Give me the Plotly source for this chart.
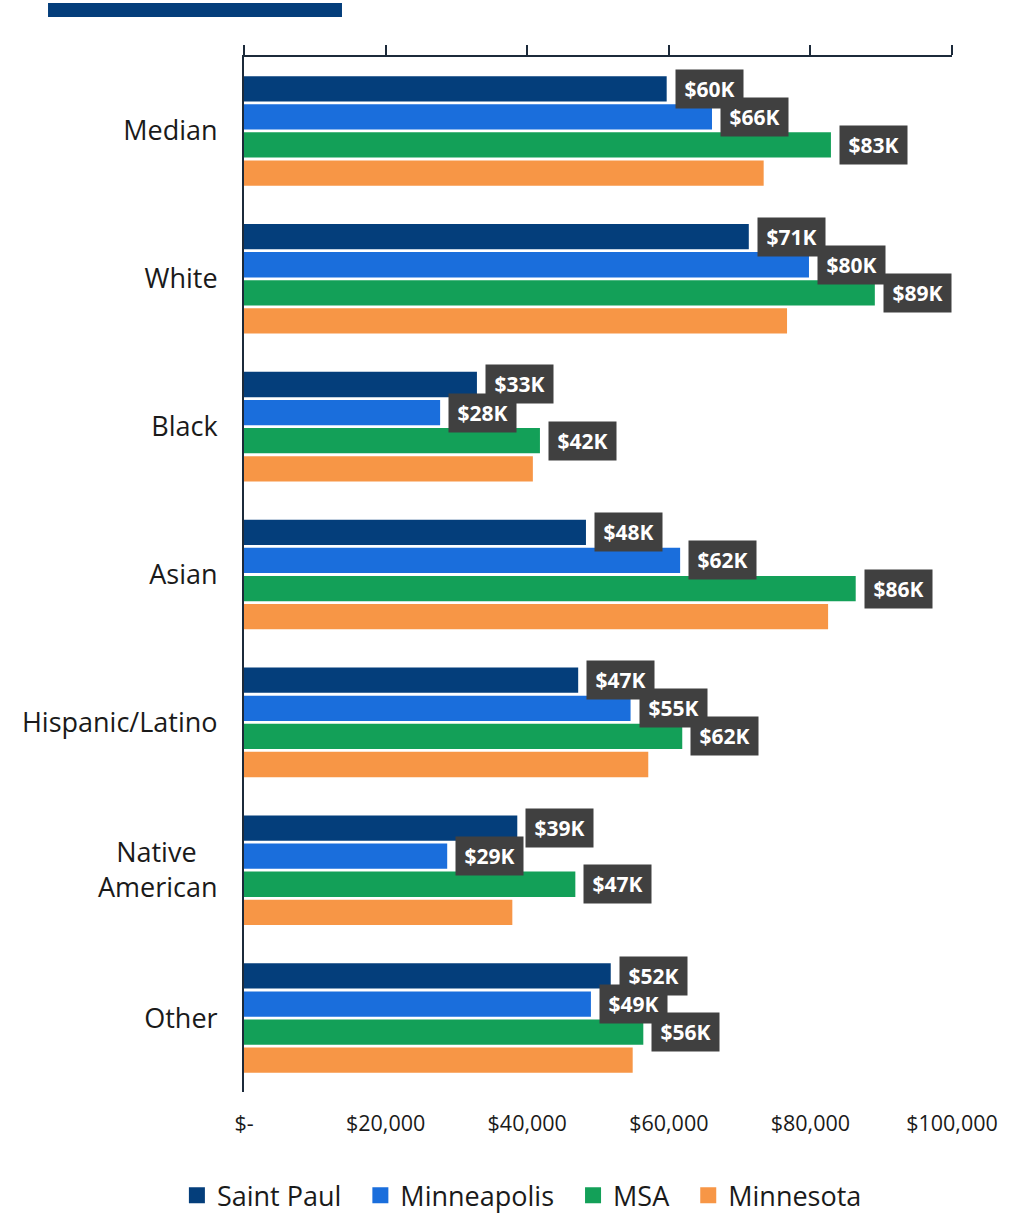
import plotly.graph_objects as go

categories = ["Median", "White", "Black", "Asian", "Hispanic/Latino",
              "Native\u00a0\u00a0\u00a0<br>American", "Other"]
series_names = ["Saint Paul", "Minneapolis", "MSA", "Minnesota"]
saint_paul = [59700, 71300, 32900, 48300, 47200, 38600, 51800]
minneapolis = [66100, 79800, 27700, 61600, 54600, 28700, 49000]
msa = [82900, 89100, 41800, 86400, 61900, 46800, 56400]
minnesota = [73400, 76700, 40800, 82500, 57100, 37900, 54900]
labeled = [True, True, True, False]

tick_vals = [0, 20000, 40000, 60000, 80000, 100000]
tick_text = ["$-", "$20,000", "$40,000", "$60,000", "$80,000", "$100,000"]

colors = ["#043E7B", "#1A6EDC", "#13A058", "#F79646"]
all_series = [saint_paul, minneapolis, msa, minnesota]

FONT = "Open Sans"
AXIS_COLOR = "#1C2A3A"
TEXT_COLOR = "#1A1A1A"

fig = go.Figure()
for name, vals, col in zip(series_names, all_series, colors):
    fig.add_trace(go.Bar(
        y=categories, x=vals, name=name, orientation="h",
        marker=dict(color=col, line=dict(width=0)),
        showlegend=False, hoverinfo="skip",
    ))
# legend entries with larger square swatches
for name, col in zip(series_names, colors):
    fig.add_trace(go.Scatter(
        x=[None], y=[None], mode="markers",
        name=name + "\u00a0\u00a0",
        marker=dict(symbol="square", size=16, color=col),
        showlegend=True,
    ))
# invisible trace on top axis
fig.add_trace(go.Scatter(x=[None], y=[None], xaxis="x2", showlegend=False))

slot = 28.1
annotations = []
for i, (vals, lab) in enumerate(zip(all_series, labeled)):
    if not lab:
        continue
    for cat, v in zip(categories, vals):
        annotations.append(dict(
            x=v, y=cat, xref="x", yref="y",
            text=f"<b>${round(v / 1000)}K</b>",
            showarrow=False, xanchor="left", yanchor="middle",
            xshift=8, yshift=(1.5 - i) * slot,
            bgcolor="#404040", borderpad=5, width=57, height=28,
            font=dict(family=FONT, size=21, color="white"),
        ))

fig.update_layout(
    width=1025, height=1214, autosize=False,
    margin=dict(l=244, r=73, t=57, b=122),
    paper_bgcolor="white", plot_bgcolor="white",
    barmode="group", bargap=0.24, bargroupgap=0.1,
    font=dict(family=FONT, color=TEXT_COLOR),
    xaxis=dict(range=[0, 100000], tickvals=tick_vals, ticktext=tick_text,
               showline=False, showgrid=False, zeroline=False, ticks="",
               tickfont=dict(size=21.5, family=FONT, color=TEXT_COLOR),
               ticklabelstandoff=16, fixedrange=True),
    xaxis2=dict(range=[0, 100000], overlaying="x", side="top", anchor="y",
                tickvals=tick_vals, showticklabels=False, showline=True,
                linecolor=AXIS_COLOR, linewidth=2, ticks="outside",
                ticklen=10, tickwidth=2, tickcolor=AXIS_COLOR,
                showgrid=False, zeroline=False),
    yaxis=dict(autorange="reversed", showline=True, linecolor=AXIS_COLOR,
               linewidth=2, ticks="", showgrid=False, zeroline=False,
               tickfont=dict(size=27, family=FONT, color=TEXT_COLOR),
               ticklabelstandoff=19),
    legend=dict(orientation="h", xref="container", yref="container",
                x=0.516, xanchor="center", y=0.015, yanchor="middle",
                font=dict(size=27, family=FONT, color=TEXT_COLOR),
                itemclick=False, itemdoubleclick=False),
    annotations=annotations,
    shapes=[dict(type="rect", xref="paper", yref="paper",
                 x0=-0.2768, x1=0.1384, y0=1.0386, y1=1.0522,
                 fillcolor="#043E7B", line=dict(width=0))],
)

fig.write_html("out.html")
